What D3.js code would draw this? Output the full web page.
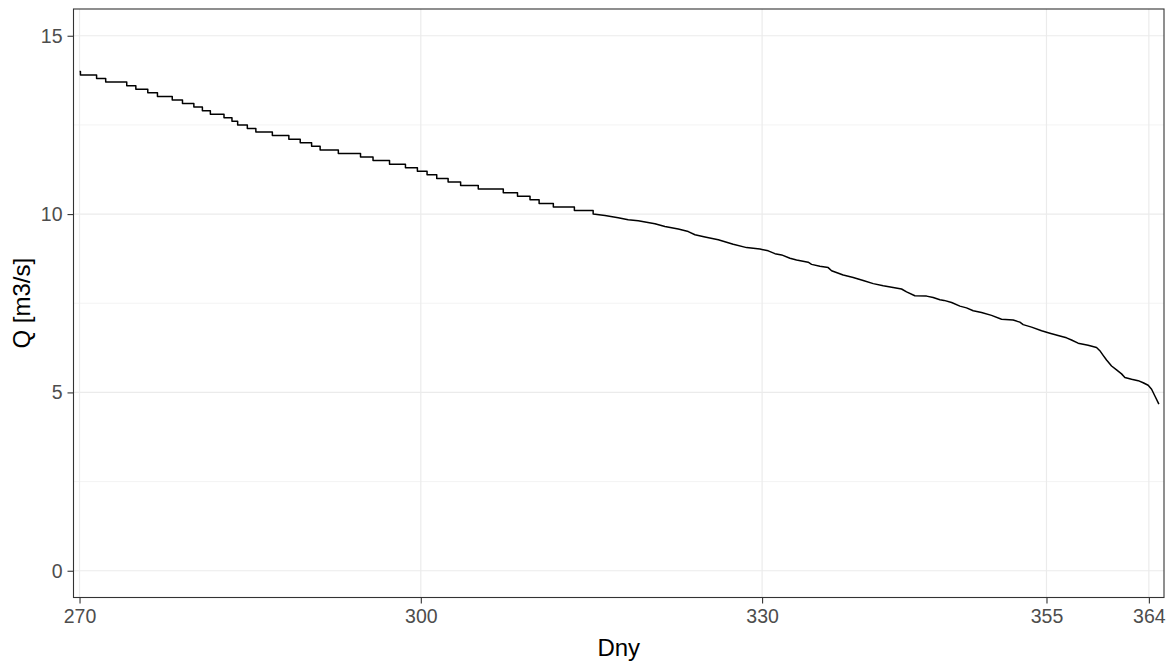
<!DOCTYPE html>
<html>
<head>
<meta charset="utf-8">
<script src="https://cdn.jsdelivr.net/npm/d3@7"></script>
<style>
  html, body { margin: 0; padding: 0; background: #ffffff; }
  svg { display: block; font-family: "Liberation Sans", Arial, sans-serif; }
</style>
</head>
<body>
<svg id="chart" width="1168" height="662"></svg>
<script>
// Flow duration curve: discharge Q [m3/s] exceeded for the given number of days.

// Upper part: discharge recorded to 0.1 m3/s, so the curve holds each level
// from the listed day until the next level starts.
const stepFlow = [14.0, 13.9, 13.8, 13.7, 13.6, 13.5, 13.4, 13.3, 13.2, 13.1,
                  13.0, 12.9, 12.8, 12.7, 12.6, 12.5, 12.4, 12.3, 12.2, 12.1,
                  12.0, 11.9, 11.8, 11.7, 11.6, 11.5, 11.4, 11.3, 11.2, 11.1,
                  11.0, 10.9, 10.8, 10.7, 10.6, 10.5, 10.4, 10.3, 10.2, 10.1];
const stepFrom = [270.0, 270.08, 271.5, 272.3, 274.15, 274.95, 276.0, 276.85, 278.15, 279.05,
                  280.05, 280.8, 281.5, 282.7, 283.4, 283.9, 284.75, 285.5, 286.95, 288.4,
                  289.4, 290.4, 291.15, 292.75, 294.7, 295.8, 297.25, 298.65, 299.7, 300.55,
                  301.4, 302.4, 303.5, 305.05, 307.25, 308.5, 309.6, 310.4, 311.65, 313.5];

// Lower part: finer resolution below 10 m3/s.
const tailDay  = [315.15, 316.19, 317.35, 318.23, 319.11, 320.58, 321.46, 322.63, 323.51, 324.10,
                  324.98, 326.15, 327.46, 328.64, 329.81, 330.54, 331.13, 331.72, 332.45, 333.03,
                  334.05, 334.35, 335.08, 335.81, 336.11, 337.13, 338.01, 338.89, 339.77, 340.65,
                  341.52, 342.26, 342.70, 343.43, 344.46, 345.04, 345.63, 346.0, 346.66, 347.39,
                  347.97, 348.56, 349.29, 350.17, 351.05, 352.07, 352.66, 352.95, 353.69, 354.57,
                  355.30, 356.18, 356.76, 357.20, 357.78, 358.66, 359.40, 359.69, 359.98, 360.28,
                  360.72, 361.16, 361.60, 361.89, 362.48, 363.06, 363.50, 363.94, 364.24, 364.53,
                  364.88];
const tailFlow = [10.0, 9.96, 9.90, 9.84, 9.81, 9.73, 9.65, 9.58, 9.51, 9.42,
                  9.36, 9.28, 9.155, 9.06, 9.02, 8.97, 8.89, 8.855, 8.76, 8.71,
                  8.65, 8.59, 8.54, 8.50, 8.41, 8.29, 8.22, 8.14, 8.05, 7.99,
                  7.94, 7.90, 7.82, 7.71, 7.70, 7.66, 7.60, 7.58, 7.52, 7.42,
                  7.37, 7.29, 7.24, 7.16, 7.05, 7.03, 6.97, 6.90, 6.83, 6.73,
                  6.66, 6.58, 6.53, 6.47, 6.38, 6.32, 6.26, 6.17, 6.04, 5.91,
                  5.74, 5.63, 5.52, 5.42, 5.37, 5.33, 5.27, 5.20, 5.09, 4.90,
                  4.67];

const xTicks = [270, 300, 330, 355, 364];
const yTicks = [0, 5, 10, 15];
const yMinor = [2.5, 7.5, 12.5];
const xTitle = "Dny";
const yTitle = "Q [m3/s]";

// Assemble the curve: each stepped level runs up to the start of the next one.
const curve = [];
stepFlow.forEach((q, i) => {
  const end = i + 1 < stepFrom.length ? stepFrom[i + 1] : tailDay[0];
  curve.push([stepFrom[i], q], [end, q]);
});
tailDay.forEach((d, i) => curve.push([d, tailFlow[i]]));

const svg = d3.select("#chart");
const panel = { left: 73.5, right: 1164, top: 9, bottom: 597.5 };

const x = d3.scaleLinear().domain([269.47, 365.33]).range([panel.left, panel.right]);
const y = d3.scaleLinear().domain([-0.75, 15.75]).range([panel.bottom, panel.top]);

// Panel background
svg.append("rect")
  .attr("x", panel.left).attr("y", panel.top)
  .attr("width", panel.right - panel.left).attr("height", panel.bottom - panel.top)
  .attr("fill", "#ffffff");

// Grid lines
const grid = svg.append("g");
grid.selectAll("line.ymin").data(yMinor).join("line")
  .attr("x1", panel.left).attr("x2", panel.right)
  .attr("y1", d => y(d)).attr("y2", d => y(d))
  .attr("stroke", "#EBEBEB").attr("stroke-width", 0.6);
grid.selectAll("line.ymaj").data(yTicks).join("line")
  .attr("x1", panel.left).attr("x2", panel.right)
  .attr("y1", d => y(d)).attr("y2", d => y(d))
  .attr("stroke", "#EBEBEB").attr("stroke-width", 1.2);
grid.selectAll("line.xmaj").data(xTicks).join("line")
  .attr("y1", panel.top).attr("y2", panel.bottom)
  .attr("x1", d => x(d)).attr("x2", d => x(d))
  .attr("stroke", "#EBEBEB").attr("stroke-width", 1.2);

// Duration curve
svg.append("path")
  .datum(curve)
  .attr("fill", "none")
  .attr("stroke", "#000000")
  .attr("stroke-width", 1.5)
  .attr("stroke-linejoin", "round")
  .attr("d", d3.line().x(d => x(d[0])).y(d => y(d[1])));

// Panel border
svg.append("rect")
  .attr("x", panel.left).attr("y", panel.top)
  .attr("width", panel.right - panel.left).attr("height", panel.bottom - panel.top)
  .attr("fill", "none").attr("stroke", "#333333").attr("stroke-width", 1.1);

// Axes
const xAxis = svg.append("g")
  .attr("transform", `translate(0,${panel.bottom})`)
  .call(d3.axisBottom(x).tickValues(xTicks).tickFormat(d3.format("d")).tickSize(6).tickPadding(6));
const yAxis = svg.append("g")
  .attr("transform", `translate(${panel.left},0)`)
  .call(d3.axisLeft(y).tickValues(yTicks).tickFormat(d3.format("d")).tickSize(6).tickPadding(5));

[xAxis, yAxis].forEach(g => {
  g.select(".domain").remove();
  g.selectAll(".tick line").attr("stroke", "#333333").attr("stroke-width", 1.1);
  g.selectAll(".tick text")
    .attr("fill", "#4D4D4D")
    .style("font-size", "19.5px")
    .style("font-family", "'Liberation Sans', Arial, sans-serif");
});

// Axis titles
svg.append("text")
  .attr("x", (panel.left + panel.right) / 2).attr("y", 656)
  .attr("text-anchor", "middle")
  .style("font-size", "24px")
  .attr("fill", "#000000")
  .text(xTitle);

svg.append("text")
  .attr("transform", `translate(30,${(panel.top + panel.bottom) / 2}) rotate(-90)`)
  .attr("text-anchor", "middle")
  .style("font-size", "24px")
  .attr("fill", "#000000")
  .text(yTitle);
</script>
</body>
</html>
